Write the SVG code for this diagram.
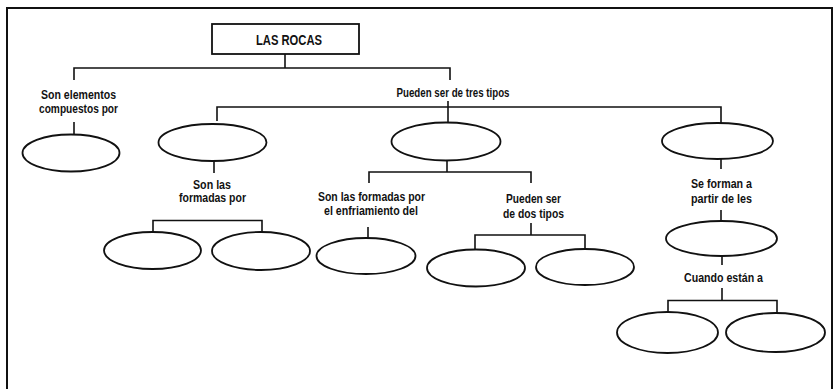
<svg xmlns="http://www.w3.org/2000/svg" width="838" height="389" viewBox="0 0 838 389">
<style>
  .frame{fill:none;stroke:#111;stroke-width:2}
  .box{fill:#fff;stroke:#111;stroke-width:1.8}
  .ell{fill:#fff;stroke:#111;stroke-width:1.8}
  .conn line,.conn polyline{fill:none;stroke:#111;stroke-width:1.6}
  text{font-family:"Liberation Sans Narrow","Liberation Sans",Arial,sans-serif;font-weight:bold;font-size:13px;fill:#111;text-anchor:middle}
  .title{font-size:14px}
</style>
<rect width="838" height="389" fill="#fff"/>
<polyline class="frame" points="7,390 7,8 832,8 832,390"/>

<g class="conn" id="connectors">
  <line x1="285" y1="54" x2="285" y2="68"/>
  <polyline points="74,80 74,68 450,68 450,80"/>
  <line x1="74" y1="122" x2="74" y2="134"/>
  <polyline points="217,121 217,107 721,107 721,123"/>
  <line x1="448" y1="101" x2="448" y2="122"/>
  <line x1="214" y1="161" x2="214" y2="173"/>
  <polyline points="153,232 153,220.5 262,220.5 262,232"/>
  <line x1="447" y1="160" x2="447" y2="172"/>
  <polyline points="369,183 369,172 531,172 531,183"/>
  <line x1="368" y1="227" x2="368" y2="238"/>
  <line x1="531" y1="223" x2="531" y2="235"/>
  <polyline points="475,250 475,235 585,235 585,249"/>
  <line x1="721" y1="159" x2="721" y2="169"/>
  <line x1="721" y1="210" x2="721" y2="221"/>
  <line x1="722" y1="256" x2="722" y2="265"/>
  <line x1="722" y1="288" x2="722" y2="300.5"/>
  <polyline points="668,313 668,300.5 777,300.5 777,313"/>
</g>

<g id="title">
  <rect class="box" x="212" y="24" width="147" height="30"/>
  <text class="title" x="289" y="45" textLength="66" lengthAdjust="spacingAndGlyphs">LAS ROCAS</text>
</g>

<g id="label-compuestos">
  <text x="78.5" y="99" textLength="75" lengthAdjust="spacingAndGlyphs">Son elementos</text>
  <text x="78.5" y="113" textLength="79" lengthAdjust="spacingAndGlyphs">compuestos por</text>
</g>
<g id="label-tres-tipos">
  <text x="453" y="97" textLength="113" lengthAdjust="spacingAndGlyphs">Pueden ser de tres tipos</text>
</g>
<g id="label-son-las">
  <text x="212" y="189" textLength="38" lengthAdjust="spacingAndGlyphs">Son las</text>
  <text x="212.5" y="202" textLength="67" lengthAdjust="spacingAndGlyphs">formadas por</text>
</g>
<g id="label-enfriamiento">
  <text x="371.5" y="201" textLength="107" lengthAdjust="spacingAndGlyphs">Son las formadas por</text>
  <text x="371" y="215" textLength="94" lengthAdjust="spacingAndGlyphs">el enfriamiento del</text>
</g>
<g id="label-dos-tipos">
  <text x="533.5" y="203" textLength="55" lengthAdjust="spacingAndGlyphs">Pueden ser</text>
  <text x="533.5" y="218" textLength="61" lengthAdjust="spacingAndGlyphs">de dos tipos</text>
</g>
<g id="label-se-forman">
  <text x="721.5" y="188" textLength="61" lengthAdjust="spacingAndGlyphs">Se forman a</text>
  <text x="721.5" y="203" textLength="61" lengthAdjust="spacingAndGlyphs">partir de les</text>
</g>
<g id="label-cuando">
  <text x="723.5" y="282" textLength="79" lengthAdjust="spacingAndGlyphs">Cuando están a</text>
</g>

<g id="e-compuestos"><ellipse class="ell" cx="71" cy="153" rx="48.5" ry="18.5"/></g>
<g id="e-tipo1"><ellipse class="ell" cx="212.5" cy="142.5" rx="54" ry="18.5"/></g>
<g id="e-tipo2"><ellipse class="ell" cx="446" cy="141.5" rx="54.5" ry="19"/></g>
<g id="e-tipo3"><ellipse class="ell" cx="717.5" cy="141" rx="55.5" ry="18"/></g>
<g id="e-formadas1"><ellipse class="ell" cx="152.5" cy="250.5" rx="48.5" ry="18.5"/></g>
<g id="e-formadas2"><ellipse class="ell" cx="261" cy="251" rx="49" ry="19"/></g>
<g id="e-enfriamiento"><ellipse class="ell" cx="366" cy="256" rx="49.5" ry="18"/></g>
<g id="e-dos1"><ellipse class="ell" cx="476" cy="268" rx="49" ry="18.5"/></g>
<g id="e-dos2"><ellipse class="ell" cx="585" cy="267" rx="49" ry="18"/></g>
<g id="e-partir"><ellipse class="ell" cx="721.5" cy="238.5" rx="55.5" ry="17.5"/></g>
<g id="e-cuando1"><ellipse class="ell" cx="667.5" cy="332.5" rx="50.5" ry="20.5"/></g>
<g id="e-cuando2"><ellipse class="ell" cx="775.5" cy="332.5" rx="49.5" ry="19.5"/></g>
</svg>
